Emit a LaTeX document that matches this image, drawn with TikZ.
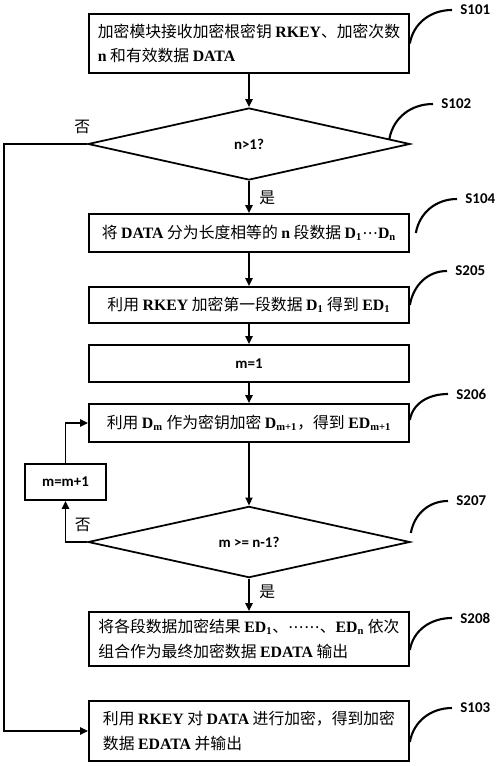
\documentclass[tikz,border=0pt]{standalone}
\usepackage{fontspec}
\setmainfont{Liberation Serif}
\newfontfamily\cjk{Noto Sans CJK SC}
\newfontfamily\enfont{Liberation Serif}
\newfontfamily\lab{Carlito}
\newfontfamily\symfont{DejaVu Sans}
\usetikzlibrary{shapes.geometric,arrows.meta}
\newcommand\en[1]{{\enfont\bfseries #1}}
\newcommand\mdots{{\symfont ⋯}}

\begin{document}
\begin{tikzpicture}[x=0.02cm,y=0.02cm,line width=1pt,
	box/.style={shape=rectangle,draw,minimum width=6.4cm,inner sep=0pt,align=left,font=\cjk\fontsize{9}{14}\selectfont},
	mathbox/.style={box,font=\lab\bfseries\fontsize{8.5}{10}\selectfont},
	decision/.style={shape=diamond,draw,minimum width=6.44cm,inner sep=0pt,font=\lab\bfseries\fontsize{8.5}{10}\selectfont},
	tag/.style={anchor=west,inner sep=0.15cm,font=\lab\bfseries\fontsize{8.5}{10}\selectfont},
	tagline/.style={line width=1.2pt},
	flow/.style={-{Triangle[length=4.5pt,width=4pt]}},
	word/.style={font=\cjk\fontsize{9}{10}\selectfont}]
	\useasboundingbox (0,0) rectangle (500,-766);
	% steps
	\node[box,minimum height=1.18cm](s101) at (249,-43.5){加密模块接收加密根密钥 \en{RKEY}、加密次数\\\en{n} 和有效数据 \en{DATA}};
	\node[decision,minimum height=1.44cm](s102) at (249,-144){n>1?};
	\node[box,minimum height=0.76cm](s104) at (249,-233){将 \en{DATA} 分为长度相等的 \en{n} 段数据 \en{D\textsubscript{1}}\mdots\en{D\textsubscript{n}}};
	\node[box,minimum height=0.72cm](s205) at (249,-305){利用 \en{RKEY} 加密第一段数据 \en{D\textsubscript{1}} 得到 \en{ED\textsubscript{1}}};
	\node[mathbox,minimum height=0.74cm](m1) at (249,-363.5){m=1};
	\node[box,minimum height=0.76cm](s206) at (249,-423){利用 \en{D\textsubscript{m}} 作为密钥加密 \en{D\textsubscript{m+1}}，得到 \en{ED\textsubscript{m+1}}};
	\node[mathbox,minimum width=1.62cm,minimum height=0.72cm](inc) at (65.5,-482){m=m+1};
	\node[decision,minimum height=1.2cm](s207) at (249,-542){m >= n-1?};
	\node[box,minimum height=1.08cm](s208) at (249,-639){将各段数据加密结果 \en{ED\textsubscript{1}}、\mdots\mdots、\en{ED\textsubscript{n}} 依次\\组合作为最终加密数据 \en{EDATA} 输出};
	\node[box,minimum height=1.2cm](s103) at (249,-731){利用 \en{RKEY} 对 \en{DATA} 进行加密，得到加密\\数据 \en{EDATA} 并输出};
	\coordinate(noleft) at (4,-144);
	% flow
	\draw[flow](s101)--(s102);
	\draw[flow](s102)--node[word,right=2pt,pos=0.53]{是}(s104);
	\draw[flow](s104)--(s205);
	\draw[flow](s205)--(m1);
	\draw[flow](m1)--(s206);
	\draw[flow](s206)--(s207);
	\draw[flow](s207)--node[word,right=2pt,pos=0.42]{是}(s208);
	\draw[flow](s102.west)--node[word,above=2pt,pos=0.06]{否}(noleft)|-(s103.west);
	\draw[flow](s207.west)-|node[word,above=2pt,pos=0.1]{否}(inc.south);
	\draw[flow](inc.north)|-(s206.west);
	% step labels
	\node[tag](t101) at (452,-10){S101};
	\node[tag](t102) at (433,-104){S102};
	\node[tag](t104) at (457,-199){S104};
	\node[tag](t205) at (447,-271){S205};
	\node[tag](t206) at (448,-394){S206};
	\node[tag](t207) at (448,-501){S207};
	\node[tag](t208) at (452,-618){S208};
	\node[tag](t103) at (452,-708){S103};
	\draw[tagline](s101.east) to[out=80,in=180](t101.west);
	\draw[tagline](s102.2) to[out=80,in=180](t102.west);
	\draw[tagline]([xshift=0.12cm]s104.east) to[out=80,in=180](t104.west);
	\draw[tagline](s205.east) to[out=80,in=180](t205.west);
	\draw[tagline]([yshift=0.06cm]s206.east) to[out=80,in=180](t206.west);
	\draw[tagline]([yshift=0.18cm]s207.east) to[out=80,in=180](t207.west);
	\draw[tagline]([yshift=-0.22cm]s208.east) to[out=80,in=180](t208.west);
	\draw[tagline]([yshift=-0.22cm]s103.east) to[out=80,in=180](t103.west);
\end{tikzpicture}
\end{document}
